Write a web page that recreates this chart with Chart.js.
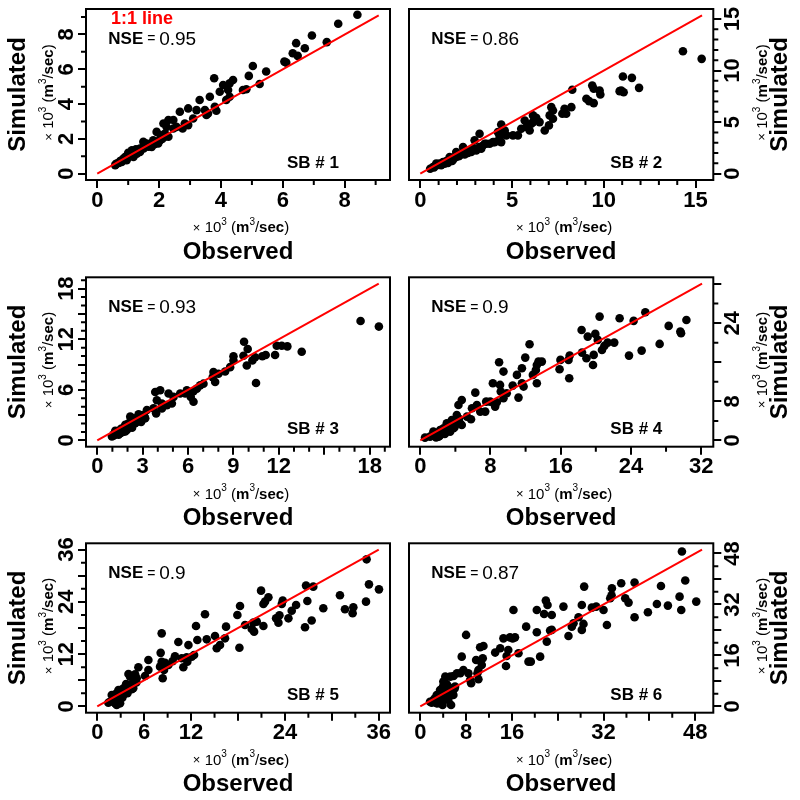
<!DOCTYPE html>
<html><head><meta charset="utf-8">
<script src="https://cdn.jsdelivr.net/npm/chart.js@4.4.1/dist/chart.umd.min.js"></script>
<style>
html,body{margin:0;padding:0;background:#fff;}
#wrap{position:relative;width:800px;height:800px;overflow:hidden;background:#fff;}
#wrap canvas{position:absolute;}
</style></head><body><div id="wrap"></div>
<script>
// ---------------- data (observed, simulated) x10^3 m3/sec ----------------
const sb1 = [[8.41,9.13],[7.79,8.62],[7.42,7.56],[6.94,7.94],[6.71,7.21],[6.43,7.5],[6.32,6.92],[6.48,6.77],[6.05,6.44],[6.11,6.38],[5.46,5.87],[5.25,5.15],[5.03,6.19],[4.9,5.62],[4.82,4.85],[4.71,4.81],[4.39,5.38],[4.28,5.19],[4.07,5.1],[4.28,4.42],[4.17,4.23],[4.23,4.81],[3.96,4.71],[3.78,5.48],[3.8,3.85],[3.85,3.62],[3.64,4.42],[3.48,3.65],[3.53,3.37],[3.31,4.23],[3.21,3.65],[3.1,3.17],[2.94,3.75],[2.94,2.79],[2.76,2.6],[2.67,3.56],[2.56,2.69],[2.46,2.6],[2.3,3.08],[2.24,2.69],[2.14,2.88],[2.3,2.12],[2.19,2.31],[2.03,1.92],[1.92,2.4],[1.87,1.83],[1.76,1.73],[1.6,1.63],[1.49,1.54],[1.38,1.44],[1.28,1.35],[1.17,1.25],[1.06,1.15],[0.95,1.0],[0.85,0.87],[0.74,0.73],[0.63,0.58],[0.58,0.48],[1.12,1.35],[1.49,1.83],[1.6,1.73],[1.81,1.92],[1.97,1.73],[1.76,1.54],[1.38,1.25],[1.17,0.96],[0.95,0.77],[0.79,0.67],[1.28,1.15],[0.9,0.96],[2.46,3.08],[2.83,2.88],[3.58,3.46],[0.6,0.55],[0.7,0.62],[0.8,0.78],[0.9,0.85],[1.0,0.95],[1.1,1.05],[1.2,1.1],[1.3,1.25],[1.4,1.35],[1.5,1.45],[1.65,1.55],[1.7,1.65],[1.85,1.7],[1.95,1.85],[2.1,2.0],[1.0,1.2],[1.25,1.4],[1.55,1.7],[2.05,2.2],[2.15,2.1]];
const sb2 = [[14.31,11.87],[15.33,11.13],[11.04,9.42],[11.53,9.29],[11.92,8.32],[10.95,8.06],[11.08,7.9],[10.86,8.0],[9.37,8.55],[9.45,8.23],[9.77,8.06],[9.81,7.68],[9.05,7.26],[9.2,7.03],[9.45,6.84],[8.28,8.13],[8.23,6.45],[7.86,6.29],[7.74,5.81],[7.95,5.81],[7.23,6.13],[7.05,5.65],[7.23,5.32],[7.01,4.68],[6.78,4.19],[6.5,5.0],[6.32,5.42],[6.14,5.65],[6.05,4.84],[5.69,5.16],[5.78,4.52],[5.96,4.19],[5.5,4.35],[5.32,3.71],[5.05,3.71],[4.69,3.71],[4.41,4.77],[4.6,4.19],[4.23,4.03],[4.41,3.06],[4.05,3.06],[3.78,2.9],[3.51,2.9],[3.23,3.87],[2.96,3.23],[3.23,2.58],[2.96,2.32],[2.69,2.26],[2.33,2.58],[2.51,2.1],[2.23,1.94],[1.96,2.1],[2.05,1.87],[1.87,1.61],[1.6,1.61],[1.69,1.35],[1.42,1.23],[1.24,1.13],[1.05,0.97],[0.87,0.81],[0.69,0.65],[0.54,0.48],[0.87,0.97],[1.14,0.81],[1.33,0.97],[1.51,1.03],[1.74,1.23],[1.96,1.61],[2.14,1.77],[2.42,1.87],[2.78,2.1],[3.05,2.26],[3.32,2.42],[3.6,2.9],[3.96,3.06],[4.32,3.55],[4.41,3.94],[6.14,5.0],[7.14,6.45],[0.75,0.6],[1.0,0.85],[1.2,0.95],[1.45,1.1],[1.8,1.4],[2.1,1.7],[2.6,2.0],[2.9,2.45],[3.4,2.7]];
const sb3 = [[17.4,14.16],[18.61,13.5],[13.51,10.52],[12.56,11.15],[12.19,11.23],[11.86,11.23],[11.75,10.13],[11.13,10.13],[10.91,9.98],[10.43,9.86],[10.25,9.47],[10.49,6.81],[9.94,10.84],[9.7,11.7],[9.66,10.05],[9.88,8.88],[9.0,9.98],[8.78,8.69],[8.45,8.18],[8.01,7.9],[7.68,8.1],[7.63,7.51],[7.79,6.92],[7.02,6.73],[6.8,6.53],[6.58,6.14],[6.36,5.83],[6.18,5.16],[5.92,5.95],[6.36,4.58],[5.81,5.56],[5.48,5.56],[5.04,5.16],[4.93,4.38],[4.6,4.19],[4.27,4.38],[4.71,5.56],[4.16,5.95],[3.83,5.75],[3.94,4.77],[4.27,3.8],[3.89,3.21],[3.72,3.8],[3.28,3.6],[2.95,2.62],[2.73,3.09],[2.4,2.62],[2.51,2.03],[2.18,2.82],[2.07,2.03],[1.85,1.84],[1.74,1.45],[1.52,1.25],[1.3,1.06],[1.08,0.74],[0.97,0.47],[1.52,0.86],[1.96,1.25],[2.29,1.64],[2.62,2.23],[2.95,2.82],[3.17,2.62],[1.85,1.06],[1.41,0.67],[1.19,1.13],[9.0,9.47],[1.2,0.9],[1.4,1.1],[1.6,1.4],[1.8,1.6],[2.0,1.8],[2.2,2.0],[2.4,2.3],[2.6,2.5],[2.8,2.7],[3.0,3.0],[1.1,0.6],[1.7,1.0],[2.3,1.5],[2.9,2.2],[3.1,2.9]];
const sb4 = [[30.32,24.66],[29.71,21.93],[29.63,22.27],[28.3,23.44],[27.27,19.75],[25.64,26.24],[24.31,24.47],[25.22,18.38],[23.78,17.36],[22.71,25.0],[22.1,20.02],[21.35,20.02],[20.97,19.34],[20.43,25.34],[20.22,20.57],[20.7,18.52],[19.94,21.8],[19.76,17.5],[19.68,15.45],[19.08,21.25],[18.93,16.82],[18.38,22.61],[18.43,17.97],[17.02,17.36],[16.89,16.48],[16.97,12.72],[15.97,16.48],[15.87,14.57],[13.85,16.13],[13.47,16.13],[13.28,15.45],[13.17,14.43],[12.83,13.41],[13.28,11.7],[12.45,19.68],[11.96,16.95],[11.58,14.77],[11.01,13.41],[11.58,11.7],[11.77,11.02],[10.53,11.22],[11.19,8.76],[9.48,14.09],[8.98,16.0],[9.09,11.36],[9.17,10.0],[9.85,9.65],[9.48,8.62],[8.72,7.8],[8.53,6.92],[8.27,11.7],[7.97,7.94],[7.51,7.94],[7.4,5.9],[6.83,5.9],[6.45,7.26],[6.27,9.78],[5.89,6.58],[5.78,4.33],[5.32,4.87],[4.73,8.28],[4.35,7.26],[4.73,3.16],[4.16,5.21],[3.97,3.84],[3.59,4.18],[3.4,3.16],[3.02,3.5],[3.78,2.48],[2.64,2.48],[2.26,2.14],[1.87,1.45],[1.49,1.11],[1.11,0.77],[1.49,1.8],[2.07,0.77],[2.45,1.45],[2.83,2.14],[3.21,2.48],[3.4,1.8],[0.54,0.57],[2.0,1.2],[2.5,1.8],[3.0,2.2],[3.5,2.8],[4.0,3.3],[4.5,3.6],[2.2,0.9],[2.8,1.3],[3.3,2.0],[3.9,2.7],[4.4,4.5],[1.8,0.6]];
const sb5 = [[34.45,33.76],[34.75,28.02],[36.03,26.87],[34.37,24.05],[32.75,22.75],[32.66,21.37],[31.68,22.29],[31.04,25.5],[28.91,22.52],[27.63,27.49],[27.42,19.73],[26.7,27.73],[26.87,24.21],[26.57,18.16],[25.43,23.27],[24.87,21.97],[24.45,20.22],[23.72,24.28],[23.6,23.51],[23.3,20.91],[23.17,19.23],[22.87,20.22],[21.89,25.04],[21.46,24.05],[21.25,23.51],[20.95,26.57],[21.25,18.46],[20.4,19.46],[19.97,19.23],[20.06,17.16],[19.76,17.77],[18.9,18.7],[18.26,23.04],[17.92,21.0],[18.18,13.47],[16.47,18.31],[16.34,15.63],[15.7,14.1],[15.28,13.34],[15.06,16.17],[14.0,15.4],[13.78,21.14],[12.8,15.25],[12.63,18.46],[12.38,11.8],[12.09,11.41],[11.66,14.08],[11.52,10.27],[11.43,11.26],[10.8,11.04],[11.01,8.98],[10.37,14.79],[9.94,11.5],[9.64,10.4],[9.1,9.5],[8.67,10.0],[8.54,8.36],[8.24,16.77],[8.24,10.27],[8.11,12.3],[8.37,6.45],[8.03,9.13],[6.54,10.66],[6.54,8.36],[6.11,6.98],[5.26,8.98],[5.05,6.45],[4.84,7.36],[4.62,5.3],[4.2,6.83],[3.99,7.44],[4.41,3.93],[3.86,3.01],[3.69,5.15],[3.35,4.16],[3.14,3.01],[2.92,2.24],[2.71,3.77],[2.58,1.32],[2.28,0.71],[2.06,1.86],[1.85,2.62],[1.63,1.09],[1.42,0.86],[2.48,0.33],[2.92,0.71],[3.35,2.62],[3.77,3.4],[2.48,3.01],[2.2,1.5],[2.6,2.0],[3.0,2.6],[3.3,3.4],[3.6,3.8],[4.0,4.4],[4.4,5.0],[2.4,1.0],[2.8,1.6],[3.2,2.0],[4.6,4.2],[5.0,5.5]];
const sb6 = [[45.69,48.58],[46.27,39.48],[48.19,32.88],[45.57,30.26],[45.28,34.44],[43.24,31.62],[42.03,37.79],[41.32,32.12],[39.75,29.53],[37.42,38.84],[37.42,27.96],[36.37,32.56],[35.79,33.92],[35.09,38.63],[33.46,37.06],[33.17,33.92],[33.4,34.86],[32.59,25.56],[32.0,30.26],[30.72,31.31],[29.96,30.99],[28.62,37.58],[28.21,31.83],[28.5,25.88],[28.21,24.0],[27.63,27.96],[26.76,26.07],[26.46,25.03],[25.88,22.1],[25.0,31.31],[22.96,28.69],[22.96,24.0],[22.67,23.8],[22.09,20.33],[21.93,33.19],[22.22,31.83],[21.63,29.01],[20.35,30.26],[20.35,23.27],[20.93,15.62],[19.3,14.05],[18.9,14.05],[18.49,25.03],[17.15,16.66],[16.27,30.26],[16.54,21.66],[16.13,21.35],[15.67,21.66],[15.37,17.71],[15.08,15.83],[14.97,12.69],[14.52,21.35],[13.96,18.25],[13.08,16.89],[11.03,18.96],[10.45,18.54],[10.91,15.1],[10.74,13.0],[10.15,11.43],[9.98,10.39],[10.15,8.51],[9.75,14.57],[8.7,8.29],[8.88,7.25],[8.0,22.43],[8.4,10.39],[7.53,11.43],[7.24,15.62],[6.99,10.39],[6.41,10.39],[5.82,9.55],[5.24,9.34],[4.37,9.34],[6.07,6.2],[5.78,3.59],[5.49,5.68],[5.38,0.45],[4.9,5.16],[4.6,7.04],[4.33,3.06],[3.97,6.2],[3.68,4.11],[3.4,2.55],[3.9,0.45],[3.15,1.49],[2.87,3.59],[2.58,2.55],[2.29,2.02],[2.0,1.18],[1.7,1.49],[4.6,3.06],[5.18,4.11],[3.45,5.16],[4.31,4.63],[4.9,2.02],[2.87,0.97],[4.03,7.78],[3.0,2.0],[3.5,3.0],[4.0,3.6],[4.5,4.2],[5.0,4.8],[5.5,5.2],[3.2,1.0],[3.8,1.6],[4.4,2.4],[5.0,3.2],[5.6,4.4],[6.0,5.6],[4.2,5.6],[4.8,6.4]];

const panelData = [sb1, sb2, sb3, sb4, sb5, sb6];
const panelNames = ['SB # 1', 'SB # 2', 'SB # 3', 'SB # 4', 'SB # 5', 'SB # 6'];
const nseValues = ['0.95', '0.86', '0.93', '0.9', '0.9', '0.87'];
const axisLimits = [9.1, 15.35, 18.6, 32.1, 36, 49.2];   // end of the 1:1 line
const majorSteps = [2, 5, 3, 8, 6, 8];
const minorSteps = [1, 1, 1, 4, 3, 4];
const xTickLabels = [[0,2,4,6,8],[0,5,10,15],[0,3,6,9,12,18],[0,8,16,24,32],[0,6,12,24,36],[0,8,16,32,48]];
const yTickLabels = [[0,2,4,6,8],[0,5,10,15],[0,6,12,18],[0,8,24],[0,12,24,36],[0,16,32,48]];
const xTitle = 'Observed';
const yTitle = 'Simulated';
const legendText = '1:1 line';

// ---------------- layout ----------------
const FAM = '"Liberation Sans", Arial, Helvetica, sans-serif';
const rowTop = [0, 265, 530], rowH = [265, 265, 270];
const areaTop = [9, 277.3, 543.3], areaBottom = [180, 446.7, 712.7];
const colLeft = [0, 400];
const wrap = document.getElementById('wrap');
const meas = document.createElement('canvas').getContext('2d');

function rich(ctx, segs, cx, cy, rot, align) {
  ctx.save();
  ctx.translate(cx, cy);
  if (rot) ctx.rotate(rot);
  let w = 0;
  segs.forEach(s => { ctx.font = s.f; s.w = ctx.measureText(s.t).width; w += s.w; });
  let x = align === 'left' ? 0 : (align === 'right' ? -w : -w / 2);
  ctx.textBaseline = 'middle';
  ctx.textAlign = 'left';
  segs.forEach(s => { ctx.font = s.f; ctx.fillStyle = s.c || '#000'; ctx.fillText(s.t, x, s.dy || 0); x += s.w; });
  ctx.restore();
}
function unitSegs() {
  return [
    {t: '\u00d7', f: `13px ${FAM}`},
    {t: ' 10', f: `15px ${FAM}`},
    {t: '3', f: `10px ${FAM}`, dy: -6},
    {t: ' (', f: `15px ${FAM}`},
    {t: 'm', f: `bold 15px ${FAM}`},
    {t: '3', f: `10px ${FAM}`, dy: -6},
    {t: '/', f: `15px ${FAM}`},
    {t: 'sec', f: `bold 15px ${FAM}`},
    {t: ')', f: `15px ${FAM}`}
  ];
}

function makePanel(i) {
  const row = Math.floor(i / 2), col = i % 2;
  const L = axisLimits[i];
  const lo = -0.04 * L, hi = 1.04 * L;
  const majors = [], minors = [];
  for (let k = 0; k * minorSteps[i] <= hi; k++) {
    const v = k * minorSteps[i];
    if (v % majorSteps[i] === 0) majors.push(v); else minors.push(v);
  }
  meas.font = `bold 22px ${FAM}`;
  const widest = Math.max(...yTickLabels[i].map(v => meas.measureText(String(v)).width));
  const yPad = 19.5 - 8 - widest / 2;

  const cv = document.createElement('canvas');
  cv.width = 400; cv.height = rowH[row];
  cv.style.left = colLeft[col] + 'px';
  cv.style.top = rowTop[row] + 'px';
  cv.style.width = '400px'; cv.style.height = rowH[row] + 'px';
  wrap.appendChild(cv);

  const xAxisH = rowTop[row] + rowH[row] - areaBottom[row];
  const tickFont = {family: FAM, size: 22, weight: 'bold'};

  const deco = {
    id: 'deco' + i,
    afterDraw(chart) {
      const ctx = chart.ctx, a = chart.chartArea;
      const xs = chart.scales.x, ys = chart.scales.y;
      ctx.save();
      ctx.strokeStyle = '#000';
      ctx.lineWidth = 2;
      ctx.beginPath();
      minors.forEach(v => {
        const px = xs.getPixelForValue(v);
        ctx.moveTo(px, a.bottom); ctx.lineTo(px, a.bottom + 5);
        const py = ys.getPixelForValue(v);
        if (col === 0) { ctx.moveTo(a.left, py); ctx.lineTo(a.left - 5, py); }
        else { ctx.moveTo(a.right, py); ctx.lineTo(a.right + 5, py); }
      });
      ctx.stroke();
      ctx.strokeRect(a.left, a.top, a.right - a.left, a.bottom - a.top);
      ctx.restore();

      const cx = (a.left + a.right) / 2, cy = (a.top + a.bottom) / 2;
      rich(ctx, unitSegs(), cx + 3, a.bottom + 48, 0, 'center');
      rich(ctx, [{t: xTitle, f: `bold 24px ${FAM}`}], cx, a.bottom + 72, 0, 'center');
      if (col === 0) {
        rich(ctx, unitSegs(), a.left - 37, cy - 2, -Math.PI / 2, 'center');
        rich(ctx, [{t: yTitle, f: `bold 24px ${FAM}`}], a.left - 67.5, cy, -Math.PI / 2, 'center');
      } else {
        rich(ctx, unitSegs(), a.right + 49.5, cy - 2, -Math.PI / 2, 'center');
        rich(ctx, [{t: yTitle, f: `bold 24px ${FAM}`}], a.right + 66.7, cy, -Math.PI / 2, 'center');
      }
      rich(ctx, [
        {t: 'NSE', f: `bold 17px ${FAM}`},
        {t: ' = ', f: `14px ${FAM}`},
        {t: nseValues[i], f: `19px ${FAM}`}
      ], a.left + 22.3, a.top + 30.5, 0, 'left');
      rich(ctx, [{t: panelNames[i], f: `bold 17px ${FAM}`}], a.right - 51, a.bottom - 17, 0, 'right');
      if (i === 0) {
        rich(ctx, [{t: legendText, f: `bold 18px ${FAM}`, c: '#ff0000'}], a.left + 25, a.top + 10, 0, 'left');
      }
    }
  };

  new Chart(cv, {
    type: 'scatter',
    data: {
      datasets: [
        {
          label: legendText,
          data: [{x: 0, y: 0}, {x: L, y: L}],
          showLine: true,
          borderColor: '#ff0000',
          borderWidth: 2,
          pointRadius: 0,
          fill: false
        },
        {
          label: panelNames[i],
          data: panelData[i].map(p => ({x: p[0], y: p[1]})),
          backgroundColor: '#000',
          borderColor: '#000',
          borderWidth: 0,
          pointRadius: 4.3,
          pointHoverRadius: 4.3
        }
      ]
    },
    options: {
      responsive: false,
      animation: false,
      devicePixelRatio: 1,
      events: [],
      layout: {padding: {left: col === 0 ? 0 : 9, right: col === 0 ? 10 : 0, top: areaTop[row] - rowTop[row], bottom: 0}},
      plugins: {legend: {display: false}, tooltip: {enabled: false}, title: {display: false}},
      scales: {
        x: {
          type: 'linear', position: 'bottom', min: lo, max: hi,
          afterBuildTicks: s => { s.ticks = majors.map(v => ({value: v})); },
          afterFit: s => { s.height = xAxisH; s.paddingLeft = 0; s.paddingRight = 0; },
          ticks: {
            autoSkip: false, minRotation: 0, maxRotation: 0, padding: -0.7,
            font: tickFont, color: '#000',
            callback: v => xTickLabels[i].includes(v) ? String(v) : ''
          },
          grid: {drawOnChartArea: false, drawTicks: true, tickLength: 8, color: '#000', lineWidth: 2},
          border: {display: false}
        },
        y: {
          type: 'linear', position: col === 0 ? 'left' : 'right', min: lo, max: hi,
          afterBuildTicks: s => { s.ticks = majors.map(v => ({value: v})); },
          afterFit: s => { s.width = col === 0 ? 86 : 86.7; s.paddingTop = 0; s.paddingBottom = 0; },
          ticks: {
            autoSkip: false, minRotation: 90, maxRotation: 90, crossAlign: 'center', padding: yPad,
            font: tickFont, color: '#000',
            callback: v => yTickLabels[i].includes(v) ? String(v) : ''
          },
          grid: {drawOnChartArea: false, drawTicks: true, tickLength: 8, color: '#000', lineWidth: 2},
          border: {display: false}
        }
      }
    },
    plugins: [deco]
  });
}

for (let i = 0; i < 6; i++) makePanel(i);
</script>
</body></html>
